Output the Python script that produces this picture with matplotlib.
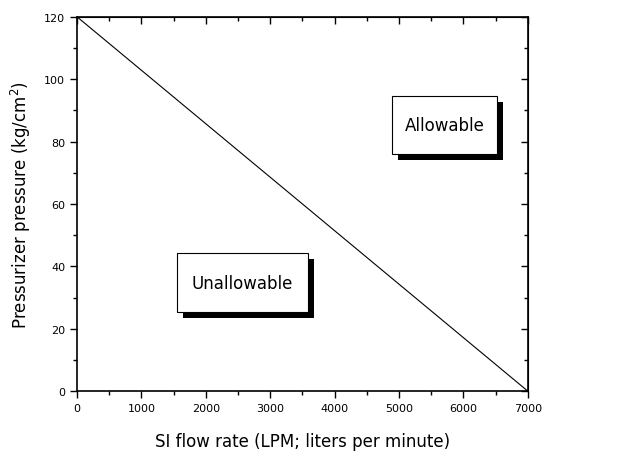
import matplotlib
matplotlib.use('Agg')
import matplotlib.pyplot as plt
from matplotlib.patches import Rectangle

# boundary line between regions
flow = [0, 7000]
pressure = [120, 0]

x_ticks = [0, 1000, 2000, 3000, 4000, 5000, 6000, 7000]
y_ticks = [0, 20, 40, 60, 80, 100, 120]

# region labels: (text, box left, box bottom, width, height) in data units
regions = [
    ('Allowable', 4890, 76, 1630, 18.7),
    ('Unallowable', 1550, 25.3, 2035, 19.0),
]

fig = plt.figure(figsize=(6.21, 4.56), dpi=100)
ax = fig.add_axes([0.124, 0.140, 0.726, 0.821])

ax.plot(flow, pressure, color='black', lw=0.8)
ax.set_xlim(0, 7000)
ax.set_ylim(0, 120)
ax.set_xticks(x_ticks)
ax.set_yticks(y_ticks)
ax.set_xticks(range(500, 7000, 1000), minor=True)
ax.set_yticks(range(10, 120, 20), minor=True)
ax.tick_params(which='both', direction='out', labelsize=8, width=1)
ax.tick_params(which='major', length=5)
ax.tick_params(which='minor', length=3)
for s in ax.spines.values():
    s.set_linewidth(1.2)

# mirrored ticks on top and right, pointing inwards
top = ax.secondary_xaxis('top')
top.set_xticks(x_ticks)
top.set_xticks(range(500, 7000, 1000), minor=True)
top.tick_params(which='both', direction='in', labeltop=False, width=1)
top.tick_params(which='major', length=5)
top.tick_params(which='minor', length=3)
right = ax.secondary_yaxis('right')
right.set_yticks(y_ticks)
right.set_yticks(range(10, 120, 20), minor=True)
right.tick_params(which='both', direction='in', labelright=False, width=1)
right.tick_params(which='major', length=5)
right.tick_params(which='minor', length=3)

ax.set_xlabel('SI flow rate (LPM; liters per minute)', fontsize=12, labelpad=14)
ax.set_ylabel('Pressurizer pressure (kg/cm$^2$)', fontsize=12, labelpad=8)

for name, x0, y0, w, h in regions:
    dx, dy = 95, -1.9
    ax.add_patch(Rectangle((x0 + dx, y0 + dy), w, h, facecolor='black', zorder=3))
    ax.add_patch(Rectangle((x0, y0), w, h, facecolor='white', edgecolor='black', lw=0.8, zorder=4))
    ax.text(x0 + w / 2, y0 + h / 2, name, ha='center', va='center', fontsize=12, zorder=5)

fig.savefig('out.png', dpi=100)
